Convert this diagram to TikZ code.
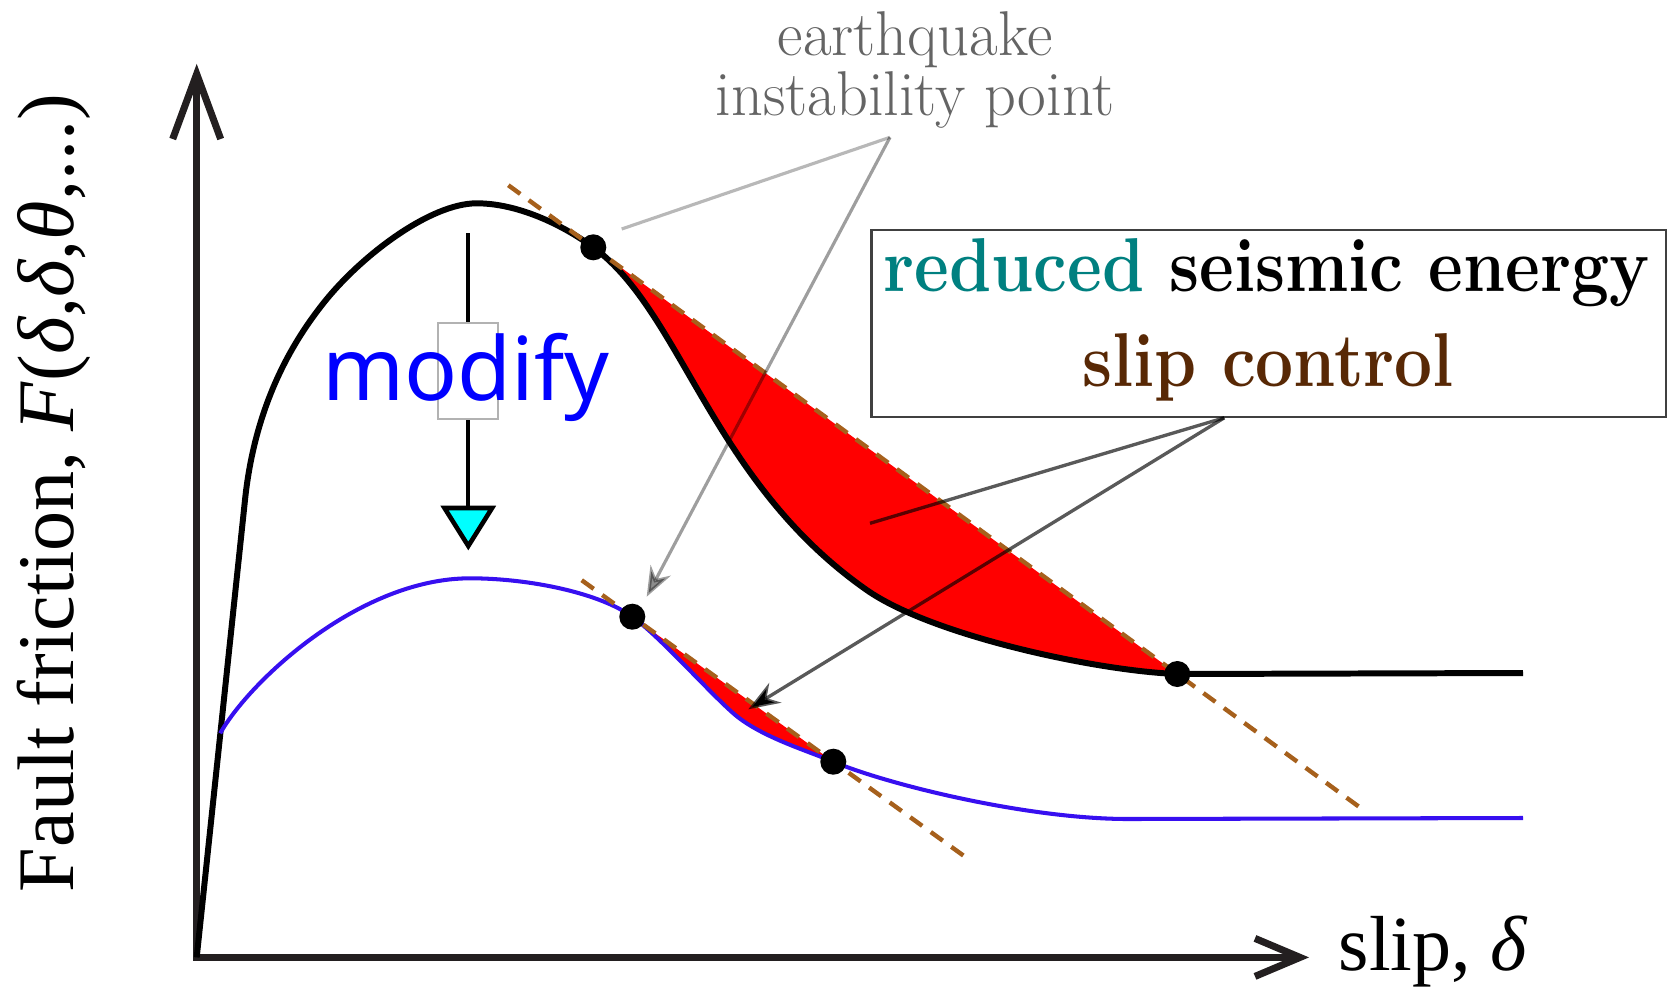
\documentclass[tikz,border=0pt]{standalone}
\usepackage{fontspec}
\newfontfamily\timesf{Liberation Serif}
\newfontfamily\modfont{Noto Sans}
\usetikzlibrary{arrows.meta,calc}
\definecolor{axisc}{RGB}{35,31,32}
\definecolor{bluec}{RGB}{55,15,240}
\definecolor{brownd}{RGB}{166,96,28}
\definecolor{tealc}{RGB}{0,128,128}
\definecolor{brownt}{RGB}{88,40,5}
\definecolor{graytxt}{RGB}{100,100,100}
\definecolor{cyanfill}{RGB}{0,255,255}
\begin{document}
\begin{tikzpicture}[x=0.01cm,y=-0.01cm,
  axisline/.style={draw=axisc, line width=2pt, line join=miter, line cap=butt},
  curveblack/.style={draw=black, line width=1.7pt},
  curveblue/.style={draw=bluec, line width=1.15pt},
  tangent/.style={draw=brownd, line width=1.25pt, dash pattern=on 4.2pt off 3pt},
  blackdot/.style={circle, fill=black, inner sep=0pt, minimum size=0.26cm},
  modline/.style={draw=black, line width=1.1pt},
  modtri/.style={draw=black, fill=cyanfill, line width=1.3pt, line join=miter},
  modbox/.style={draw=black!30, fill=white, line width=0.5pt, minimum width=0.594cm, minimum height=0.957cm, inner sep=0pt},
  lightcall/.style={draw=black, draw opacity=0.28, line width=0.9pt},
  graycall/.style={draw=black, draw opacity=0.38, fill opacity=0.45, line width=0.9pt, -{Stealth[length=8.5pt, width=6.5pt]}},
  darkcall/.style={draw=black, draw opacity=0.65, line width=0.95pt},
  legendbox/.style={draw=black!75, line width=0.6pt, minimum width=7.943cm, minimum height=1.867cm, inner sep=0pt},
  boxtext/.style={anchor=base, inner sep=0pt, font=\bfseries\fontsize{21.7}{26}\selectfont},
  eqtext/.style={anchor=base, inner sep=0pt, text=graytxt, font=\fontsize{18}{21}\selectfont},
  axlabel/.style={inner sep=0pt, text=black}
]
\useasboundingbox (0,0) rectangle (1668,990);

% key coordinates
\coordinate (O) at (196.7,957.4);
\coordinate (Ytip) at (196.7,74);
\coordinate (Ya) at (172.7,139);
\coordinate (Yb) at (220.7,139);
\coordinate (Xtip) at (1300,957.4);
\coordinate (Xa) at (1255,938.4);
\coordinate (Xb) at (1255,976.4);

\coordinate (A) at (245,500);
\coordinate (M) at (323.3,303.3);
\coordinate (P) at (476.7,203.3);
\coordinate (D1) at (593.3,247.3);
\coordinate (J) at (866.7,590);
\coordinate (D2) at (1177.3,674);
\coordinate (Bend) at (1523,673);

\coordinate (B0) at (220.2,733.3);
\coordinate (Q) at (470,578.3);
\coordinate (E1) at (632.3,616.7);
\coordinate (K) at (733.3,713.3);
\coordinate (E2) at (833.3,761.7);
\coordinate (F) at (1128,819);
\coordinate (Bend2) at (1523,818);

% red areas
\fill[red] (D1) .. controls (682.1,312.2) and (711.1,481.1) .. (J)
  .. controls (932.2,635.8) and (1097.3,671) .. (D2) -- cycle;
\fill[red] (E1) .. controls (660.6,637.3) and (707.1,690.2) .. (K)
  .. controls (759.6,736.4) and (805.6,750.1) .. (E2) -- cycle;

% axes
\draw[axisline] (Ytip) -- (O) -- (Xtip);
\draw[axisline] (Ya) -- (Ytip) -- (Yb);
\draw[axisline] (Xa) -- (Xtip) -- (Xb);

% curves
\draw[curveblack] (O) -- (A) .. controls (255.4,400.5) and (295.4,338.6) .. (M)
  .. controls (360.5,256.2) and (430,203.3) .. (P)
  .. controls (516.7,203.3) and (561,223.7) .. (D1)
  .. controls (682.1,312.2) and (711.1,481.1) .. (J)
  .. controls (932.2,635.8) and (1097.3,671) .. (D2) -- (Bend);
\draw[curveblue] (B0) .. controls (250.1,680.4) and (360,578.3) .. (Q)
  .. controls (530,578.3) and (599.9,593.2) .. (E1)
  .. controls (660.6,637.3) and (707.1,690.2) .. (K)
  .. controls (759.6,736.4) and (805.6,750.1) .. (E2)
  .. controls (888.6,784.9) and (1028,819) .. (F) -- (Bend2);

% tangent lines
\draw[tangent] ($(D1)!-0.1455!(D2)$) -- ($(D1)!1.3158!(D2)$);
\draw[tangent] ($(E1)!-0.2517!(E2)$) -- ($(E1)!1.6637!(E2)$);

% dots
\node[blackdot] (d1) at (D1) {};
\node[blackdot] (d2) at (D2) {};
\node[blackdot] (e1) at (E1) {};
\node[blackdot] (e2) at (E2) {};

% modify arrow
\coordinate (mtop) at (468.3,233.3);
\coordinate (mtri) at (468.3,508);
\coordinate (mtl) at (444.5,508);
\coordinate (mtr) at (492.1,508);
\coordinate (mtip) at (468.3,546);
\draw[modline] (mtop) -- (mtri);
\draw[modtri] (mtl) -- (mtr) -- (mtip) -- cycle;
\node[modbox] (mbox) at (468,371.2) {};
\node[anchor=base west, inner sep=0pt, text=blue, font=\modfont\fontsize{25}{30}\selectfont] (modify) at (321.7,400) {modify};

% earthquake label and callouts
\node[eqtext] (eq1) at (915,55.3) {\scalebox{0.985}[1]{earthquake}};
\node[eqtext] (eq2) at (915,115) {\scalebox{0.985}[1]{instability point}};
\coordinate (eqapex) at (890,137.3);
\coordinate (eqend1) at (621.7,229);
\coordinate (eqend2) at (646.7,596.7);
\draw[lightcall] (eqapex) -- (eqend1);
\draw[graycall] (eqapex) -- (eqend2);

% legend box
\node[legendbox] (box) at (1268.85,323.35) {};
\node[boxtext] (l1) at (1266.7,291.7) {\scalebox{0.885}[1]{\textcolor{tealc}{reduced} seismic energy}};
\node[boxtext, text=brownt] (l2) at (1268,386) {\scalebox{0.885}[1]{slip control}};
\coordinate (lapex) at ($(box.south west)!0.444!(box.south east)$);
\coordinate (lend1) at (870,523.3);
\coordinate (lend2) at (748.3,709.3);
\draw[darkcall] (lapex) -- (lend1);
\draw[darkcall, -{Stealth[length=9pt, width=6.6pt]}] (lapex) -- (lend2);

% axis labels
\node[axlabel, rotate=90, anchor=base, font=\timesf\fontsize{22.8}{27}\selectfont] (ylab) at (73.5,493)
  {Fault friction, \textit{F}(\textit{δ},\textit{δ},\textit{θ},...)};
\node[axlabel, anchor=base west, font=\timesf\fontsize{22.2}{27}\selectfont] (xlab) at (1338,970.7)
  {slip, \textit{δ}};
\end{tikzpicture}
\end{document}
